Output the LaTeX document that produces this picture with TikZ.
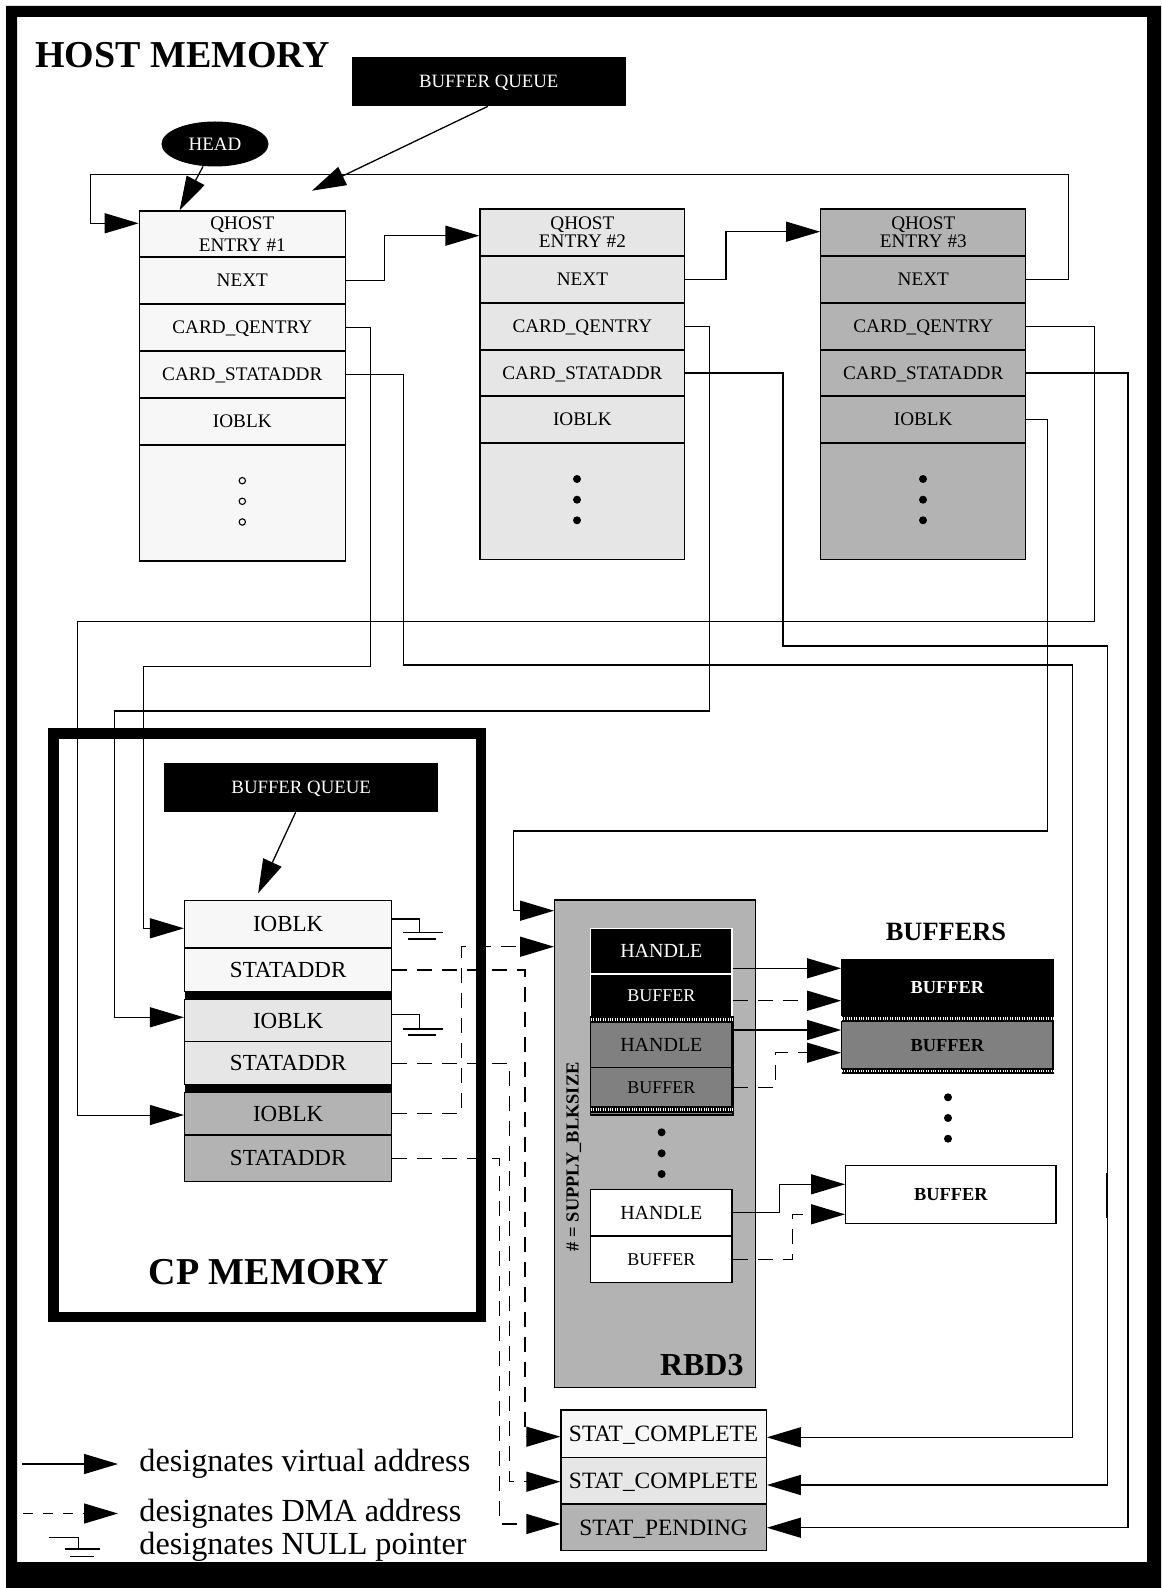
\documentclass[tikz,border=0pt]{standalone}
\usepackage{fontspec}
\setmainfont{Liberation Serif}
\usetikzlibrary{arrows.meta,shapes.geometric}
\definecolor{cA}{HTML}{F7F7F7}
\definecolor{cB}{HTML}{E6E6E6}
\definecolor{cC}{HTML}{B3B3B3}
\definecolor{cD}{HTML}{808080}
\newcommand\fsz[1]{\fontsize{#1}{#1}\selectfont}
\newcommand\hstrip[4]{\fill[black] (#1,#2) rectangle (#3,#4);
  \draw[white, line width=1.3pt, dash pattern=on 0.5pt off 0.7pt] (#1,{(#2+#4)/2}) -- (#3,{(#2+#4)/2});}
% \cellbox{name}{x1}{y1}{x2}{y2}{options}{text}
\newcommand\cellbox[7]{%
  \pgfmathsetmacro\cbw{(#4-#2)*0.5}%
  \pgfmathsetmacro\cbh{(#5-#3)*0.5}%
  \node[cell,#6,minimum width=\cbw pt,minimum height=\cbh pt] (#1) at ({(#2+#4)/2},{(#3+#5)/2}) {#7};}
\begin{document}
\begin{tikzpicture}[x=0.5pt,y=-0.5pt,
  lw/.style={line width=0.65pt},
  cell/.style={draw, line width=0.65pt, inner sep=0pt, align=center},
  etxt/.style={font=\fsz{9.6}, text depth=0pt},
  ctxt/.style={font=\fsz{11.5}, text depth=0pt},
  stxt/.style={font=\fsz{11.7}, text depth=0pt},
  tipA/.style={-{Triangle[length=17pt,width=10pt]}},
  va/.style={lw, tipA},
  da/.style={lw, tipA, dash pattern=on 7.5pt off 5pt}]
\useasboundingbox (0,0) rectangle (1161,1588);
\fill[white] (0,0) rectangle (1161,1588);
% outer frame
\fill[black, even odd rule] (6,6) rectangle (1161,1588) (17,17) rectangle (1147,1562);

% titles
\node[anchor=west, inner sep=0pt, font=\bfseries\fsz{19}] (hm) at (34.7,55) {HOST MEMORY};
\cellbox{bq1}{351.8}{57.3}{625.7}{105.7}{draw=none, fill=black, text=white, font=\fsz{9.4}, text depth=0pt}{BUFFER QUEUE}
\node[ellipse, fill=black, text=white, inner sep=0pt, minimum width=53.5pt, minimum height=22.5pt, font=\fsz{9.5}, text depth=0pt] (head) at (215,144) {HEAD};

% entry 1
\cellbox{e1h}{139.3}{211}{345.3}{257}{fill=cA, font=\fontsize{9.6}{10.8}\selectfont}{QHOST\\ENTRY \#1}
\cellbox{e1n}{139.3}{257}{345.3}{304}{fill=cA, etxt}{NEXT}
\cellbox{e1cq}{139.3}{304}{345.3}{351}{fill=cA, etxt}{CARD\_QENTRY}
\cellbox{e1cs}{139.3}{351}{345.3}{398}{fill=cA, etxt}{CARD\_STATADDR}
\cellbox{e1io}{139.3}{398}{345.3}{445}{fill=cA, etxt}{IOBLK}
\cellbox{e1d}{139.3}{445}{345.3}{561}{fill=cA}{}
\foreach \yy in {480.7,501.3,522} \draw[line width=0.55pt] (242.3,\yy) circle[radius=3.2];

% entry 2
\cellbox{e2h}{480}{209}{684.8}{256}{fill=cB, font=\fontsize{9.6}{7.2}\selectfont}{QHOST\\ENTRY \#2}
\cellbox{e2n}{480}{256}{684.8}{303}{fill=cB, etxt}{NEXT}
\cellbox{e2cq}{480}{303}{684.8}{350}{fill=cB, etxt}{CARD\_QENTRY}
\cellbox{e2cs}{480}{350}{684.8}{396}{fill=cB, etxt}{CARD\_STATADDR}
\cellbox{e2io}{480}{396}{684.8}{443}{fill=cB, etxt}{IOBLK}
\cellbox{e2d}{480}{443}{684.8}{559.5}{fill=cB}{}
\foreach \yy in {479,499.7,520.3} \fill (577,\yy) circle[radius=4];

% entry 3
\cellbox{e3h}{820.7}{209}{1025.8}{256}{fill=cC, font=\fontsize{9.6}{7.8}\selectfont}{QHOST\\ENTRY \#3}
\cellbox{e3n}{820.7}{256}{1025.8}{303}{fill=cC, etxt}{NEXT}
\cellbox{e3cq}{820.7}{303}{1025.8}{350}{fill=cC, etxt}{CARD\_QENTRY}
\cellbox{e3cs}{820.7}{350}{1025.8}{396}{fill=cC, etxt}{CARD\_STATADDR}
\cellbox{e3io}{820.7}{396}{1025.8}{443}{fill=cC, etxt}{IOBLK}
\cellbox{e3d}{820.7}{443}{1025.8}{559.5}{fill=cC}{}
\foreach \yy in {479,499.7,520.3} \fill (923,\yy) circle[radius=4];

% CP memory frame
\draw[line width=5.25pt] (53.7,733.6) rectangle (480.8,1317);
\node[font=\bfseries\fsz{19}, text depth=0pt] (cpm) at (269,1272) {CP MEMORY};
\cellbox{bq2}{164.4}{763.3}{438}{811.7}{draw=none, fill=black, text=white, font=\fsz{9.4}, text depth=0pt}{BUFFER QUEUE}

% CP entries
\cellbox{cio1}{184.6}{900.7}{391.8}{948}{fill=cA, ctxt}{IOBLK}
\cellbox{csa1}{184.6}{948}{391.8}{991.7}{fill=cA, ctxt}{STATADDR}
\cellbox{cio2}{184.6}{999.3}{391.8}{1041.7}{fill=cB, ctxt}{IOBLK}
\cellbox{csa2}{184.6}{1041.7}{391.8}{1084.7}{fill=cB, ctxt}{STATADDR}
\cellbox{cio3}{184.6}{1092.3}{391.8}{1135}{fill=cC, ctxt}{IOBLK}
\cellbox{csa3}{184.6}{1135}{391.8}{1181.7}{fill=cC, ctxt}{STATADDR}
\fill[black] (184.6,991.7) rectangle (391.8,999.3);
\fill[black] (184.6,1084.7) rectangle (391.8,1092.3);

% null pointers
\draw[lw] (cio1.east |- 0,919) -| (419.6,932.7);
\draw[lw] (403.2,932.7) -- (442.5,932.7);
\draw[lw] (407.9,939) -- (436.4,939);
\draw[lw] (cio2.east |- 0,1014.7) -| (419.6,1029);
\draw[lw] (403.2,1029) -- (442.5,1029);
\draw[lw] (407.9,1035) -- (436.4,1035);

% RBD3
\cellbox{rbd}{554.7}{900}{755.8}{1387.7}{fill=cC}{}
\node[anchor=east, inner sep=0pt, font=\bfseries\fsz{16}, text depth=0pt] (rbdl) at (744,1365) {RBD3};
\node[rotate=90, inner sep=0pt, font=\bfseries\fsz{9.2}] (sbs) at (573.7,1156.7) {\# = SUPPLY\_BLKSIZE};
\cellbox{rhA}{590.7}{928.3}{732}{974}{draw=white, fill=black, text=white, font=\fsz{10}, text depth=0pt}{HANDLE}
\cellbox{rbA}{590.7}{974}{732}{1016.7}{draw=white, fill=black, text=white, font=\fsz{9}, text depth=0pt}{BUFFER}
\draw[lw, fill=cD] (590.7,1016.7) rectangle (732.9,1115);
\cellbox{rhB}{590.7}{1022.7}{732}{1067.7}{fill=cD, font=\fsz{10}, text depth=0pt}{HANDLE}
\cellbox{rbB}{590.7}{1067.7}{732}{1106.7}{fill=cD, font=\fsz{9}, text depth=0pt}{BUFFER}
\hstrip{590.7}{1016.7}{732.9}{1022.7}
\hstrip{590.7}{1106.7}{732.9}{1112.7}
\foreach \yy in {1132.3,1153.3,1174} \fill (661.6,\yy) circle[radius=4];
\cellbox{rhC}{590.7}{1189.3}{732}{1236}{fill=white, font=\fsz{10}, text depth=0pt}{HANDLE}
\cellbox{rbC}{590.7}{1236}{732}{1282.7}{fill=white, font=\fsz{9}, text depth=0pt}{BUFFER}

% buffers
\node[inner sep=0pt, font=\bfseries\fsz{13.2}, text depth=0pt] (bufs) at (946,931.7) {BUFFERS};
\cellbox{bufA}{841.8}{960}{1052.9}{1015}{fill=black, text=white, font=\bfseries\fsz{9.2}, text depth=0pt}{BUFFER}
\cellbox{bufB}{841.8}{1021.7}{1052.9}{1068.3}{fill=cD, font=\bfseries\fsz{9.2}, text depth=0pt}{BUFFER}
\hstrip{841.8}{1015}{1054}{1021.7}
\hstrip{841.8}{1068.3}{1054}{1074}
\foreach \yy in {1097.3,1118,1138.7} \fill (948,\yy) circle[radius=4];
\cellbox{bufC}{845.7}{1165.7}{1056}{1223.3}{fill=white, font=\bfseries\fsz{9.2}, text depth=0pt}{BUFFER}

% status
\cellbox{st1}{561}{1410}{766.2}{1457.3}{fill=cA, stxt}{STAT\_COMPLETE}
\cellbox{st2}{561}{1457.3}{766.2}{1504}{fill=cB, stxt}{STAT\_COMPLETE}
\cellbox{st3}{561}{1504}{766.2}{1550.7}{fill=cC, stxt}{STAT\_PENDING}

% top connectors
\coordinate (bqtip) at (312,190.7);
\draw[va] (bq1.south -| 487.8,0) -- (bqtip);
\draw[va] (head) -- (e1h.north -| 179.6,0);
\draw[va] (e3n.east) -| (1068.7,174.3) -| (90.6,200) |- (e1h.west |- 0,223.3);
\draw[va] (e1n.east) -| (384.3,250) |- (e2h.west |- 0,235.7);
\draw[va] (e2n.east) -| (726,250) |- (e3h.west |- 0,231.7);

% long connectors
\draw[va] (e1cq.east) -| (370.7,666.7) -| (143.3,700) |- (cio1.west |- 0,928.3);
\draw[va] (e1cs.east) -| (403.6,665) -| (1072.4,1000) |- (st1.east |- 0,1437.3);
\draw[va] (e2cq.east) -| (709.8,711) -| (114.6,800) |- (cio2.west |- 0,1017.3);
\draw[va] (e2cs.east) -| (783,646) -| (1107.8,1000) |- (st2.east |- 0,1485);
\draw[line width=1pt] (1106.8,1173) -- (1106.8,1218);
\draw[va, line width=0.5pt] (e3cq.east) -| (1094.7,621.7) -| (77.5,800) |- (cio3.west |- 0,1115);
\draw[va] (e3cs.east) -| (1128,1000) |- (st3.east |- 0,1527.7);
\draw[va] (e3io.east) -| (1047.3,831) -| (513.4,870) |- (rbd.west |- 0,910.7);

% CP queue arrow
\coordinate (cbqtip) at (258.1,893.3);
\draw[va] (bq2.south -| 295.6,0) -- (cbqtip);

% DMA connectors
\draw[da] (cio3.east) -| (461.4,1000) |- (rbd.west |- 0,946.7);
\draw[da] (csa1.east) -| (525,1200) |- (st1.west |- 0,1436.7);
\draw[da] (csa2.east) -| (509.6,1200) |- (st2.west |- 0,1481.7);
\draw[da] (csa3.east) -| (499.6,1300) |- (st3.west |- 0,1524);

% RBD to buffers
\draw[va] (rhA.east |- 0,968.3) -- (bufA.west |- 0,968.3);
\draw[da] (rbA.east |- 0,1000.7) -- (bufA.west |- 0,1000.7);
\draw[va] (rhB.east |- 0,1030) -- (bufB.west |- 0,1030);
\draw[da] (rbB.east) -| (775.6,1070) |- (bufB.west |- 0,1052.7);
\draw[va] (rhC.east) -| (779.6,1200) |- (bufC.west |- 0,1184.3);
\draw[da] (rbC.east) -| (792.7,1240) |- (bufC.west |- 0,1214.3);

% legend
\draw[va] (21.7,1464) -- (118,1464);
\draw[lw, tipA, dash pattern=on 5pt off 5pt] (23,1513.5) -- (118,1513.5);
\draw[lw] (49.3,1537.5) -| (78.3,1549);
\draw[lw] (65.3,1549) -- (100,1549);
\draw[lw] (70,1556.5) -- (94,1556.5);
\node[anchor=west, inner sep=0pt, font=\fsz{16.1}] (lg1) at (139,1464) {designates virtual address};
\node[anchor=west, inner sep=0pt, font=\fsz{16.1}] (lg2) at (139,1513.5) {designates DMA address};
\node[anchor=west, inner sep=0pt, font=\fsz{16.1}] (lg3) at (139,1546.5) {designates NULL pointer};
\end{tikzpicture}
\end{document}
